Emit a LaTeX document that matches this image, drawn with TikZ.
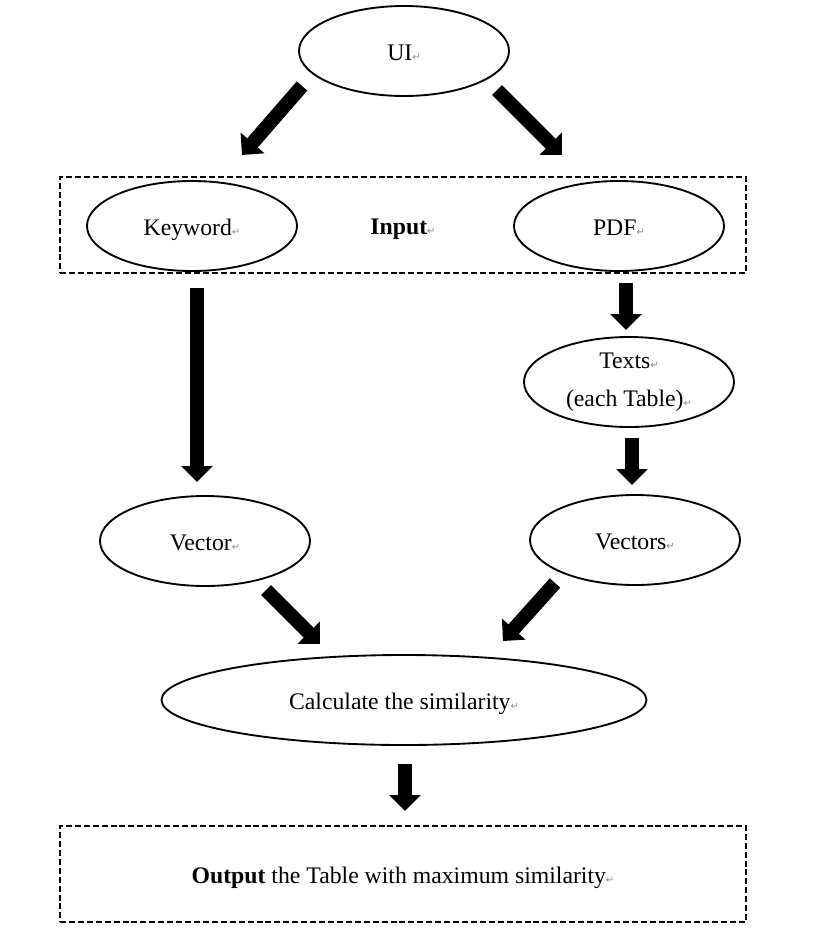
\documentclass[tikz,border=0pt]{standalone}
\usepackage{fontspec}
\setmainfont{Liberation Serif}
\newfontfamily\symfont{DejaVu Sans}
\usetikzlibrary{arrows.meta, positioning, shapes.geometric}
\newcommand{\retmark}{{\symfont\fontsize{7.5}{8}\selectfont\color{black!45}↵}}
\tikzset{
  blob/.style={
    ellipse, draw, line width=1.4pt,
    minimum width=157.5pt, minimum height=67.5pt, inner sep=0pt,
    font=\fontsize{17.8}{27.75}\selectfont, align=center
  },
  oneline/.style={text height=14.3pt, text depth=0pt},
  frame/.style={
    draw, line width=1pt, dash pattern=on 4.5pt off 2.2pt,
    minimum width=514.5pt, minimum height=72pt,
    font=\fontsize{17.8}{20}\selectfont, oneline
  },
  fat/.style={line width=10.5pt, -{Triangle[width=23pt,length=12pt]}}
}
\begin{document}
\begin{tikzpicture}[x=0.75pt, y=-0.75pt]
          \useasboundingbox (0,0) rectangle (820,936);

          % ellipses
          \node[blob, oneline] (ui) at (404,51) {UI\retmark};
          \node[frame] (input) at (403,225) {\textbf{Input}\retmark};
          \node[blob, oneline] (keyword) at (192,226) {Keyword\retmark};
          \node[blob, oneline] (pdf) at (619,226) {PDF\retmark};
          \node[blob] (texts) at (629,382) {Texts\retmark\\[0.5pt](each Table)\retmark};
          \node[blob, oneline] (vector) at (205,541) {Vector\retmark};
          \node[blob, oneline] (vectors) at (635,540) {Vectors\retmark};
          \node[blob, oneline, minimum width=363.75pt] (calc) at (404,700) {Calculate the similarity\retmark};
          \node[frame] (output) at (403,874) {\textbf{Output} the Table with maximum similarity\retmark};

          % arrow ends
          \coordinate (ui l) at (302,86);   \coordinate (kw in) at (242,155);
          \coordinate (ui r) at (497,90);   \coordinate (pdf in) at (562,155);
          \coordinate (kw out) at (197,288); \coordinate (vec in) at (197,482);
          \coordinate (pdf out) at (626,283); \coordinate (txt in) at (626,330);
          \coordinate (txt out) at (632,438); \coordinate (vecs in) at (632,485);
          \coordinate (vec out) at (266,590); \coordinate (calc l) at (320,644);
          \coordinate (vecs out) at (555,583); \coordinate (calc r) at (503,641);
          \coordinate (calc out) at (405,764); \coordinate (out in) at (405,811);

          \draw[fat] (ui l) -- (kw in);
          \draw[fat] (ui r) -- (pdf in);
          \draw[fat] (kw out) -- (vec in);
          \draw[fat] (pdf out) -- (txt in);
          \draw[fat] (txt out) -- (vecs in);
          \draw[fat] (vec out) -- (calc l);
          \draw[fat] (vecs out) -- (calc r);
          \draw[fat] (calc out) -- (out in);
\end{tikzpicture}
\end{document}
